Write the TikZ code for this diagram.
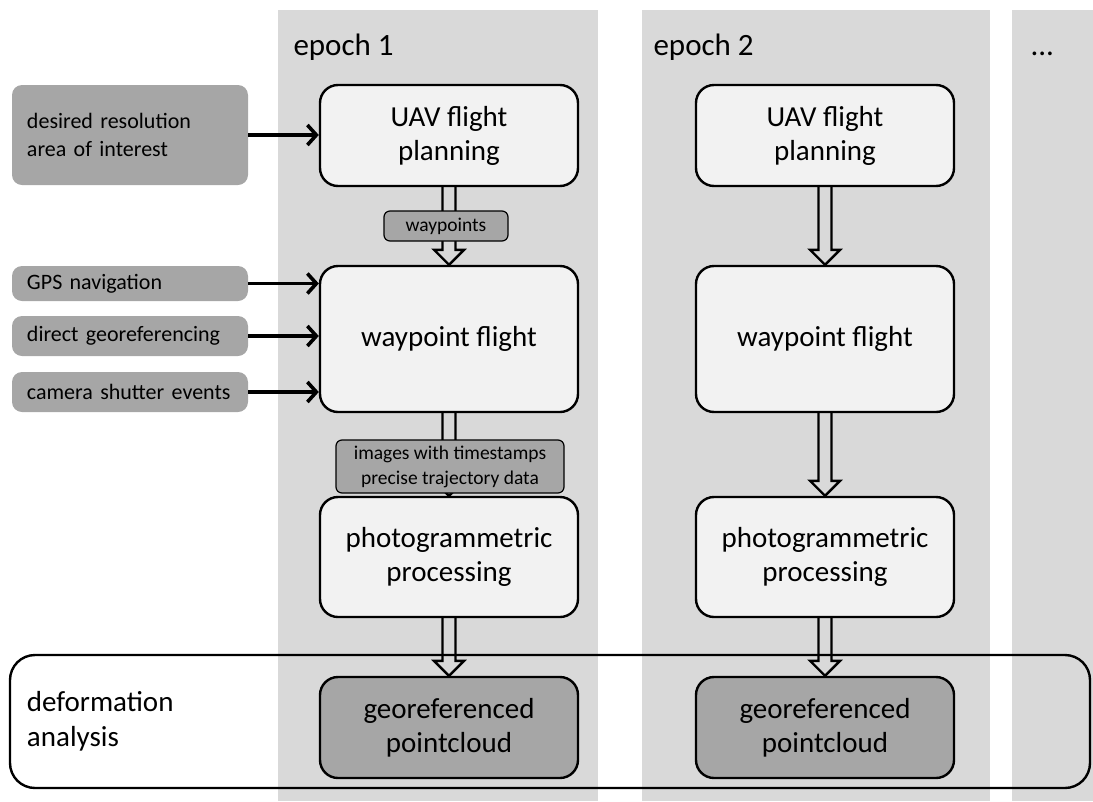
\documentclass[tikz,border=0pt]{standalone}
\usepackage{fontspec}
\setmainfont{Carlito}
\usetikzlibrary{arrows.meta,calc}

\definecolor{panelgray}{HTML}{D9D9D9}
\definecolor{boxlight}{HTML}{F2F2F2}
\definecolor{boxdark}{HTML}{A6A6A6}

% hollow block arrow from the bottom of one node to the top of the next
\newcommand{\hollowarrow}[2]{%
  \draw[hollow] ($(#1.south)+(-6.5,0)$) -- ($(#2.north)+(-6.5,-15)$)
    -- ($(#2.north)+(-15,-15)$) -- (#2.north) -- ($(#2.north)+(15,-15)$)
    -- ($(#2.north)+(6.5,-15)$) -- ($(#1.south)+(6.5,0)$);}

\begin{document}
\begin{tikzpicture}[x=1pt,y=-1pt]
\tikzset{
  stage/.style={draw, line width=2.4pt, fill=boxlight, rounded corners=18pt,
    minimum width=258pt, align=center, font=\fontsize{29}{34}\selectfont},
  result/.style={stage, fill=boxdark},
  input/.style={fill=boxdark, rounded corners=10pt, minimum width=236pt,
    text width=206pt, inner xsep=15pt, align=left, font=\fontsize{22}{28}\selectfont},
  tag/.style={draw, line width=1.2pt, fill=boxdark, rounded corners=6pt,
    align=center, inner sep=3pt, font=\fontsize{19.5}{25}\selectfont},
  feed/.style={line width=3.6pt, -{Straight Barb[length=9pt,width=20pt]}},
  hollow/.style={line width=2.4pt, line join=miter},
  epoch/.style={anchor=base west, font=\fontsize{31}{36}\selectfont}
}
\useasboundingbox (0,0) rectangle (1093,801);

% epoch columns
\fill[panelgray] (278,10) rectangle (598,801);
\fill[panelgray] (642,10) rectangle (990,801);
\fill[panelgray] (1012,10) rectangle (1093,801);
\node[epoch] (ep1) at (290,55) {epoch 1};
\node[epoch] (ep2) at (650,55) {epoch 2};
\node[epoch] (ep3) at (1027,55) {...};

% deformation analysis frame
\node[draw, line width=2.4pt, rounded corners=25pt, minimum width=1080pt,
  minimum height=133pt, text width=1046pt, align=left,
  font=\fontsize{29}{35}\selectfont] (defo) at (550,721.5) {deformation\\analysis};

% inputs
\node[input, minimum height=100pt] (goal) at (130,135) {desired resolution\\area of interest};
\node[input, minimum height=35pt] (gps) at (130,283.5) {GPS navigation};
\node[input, minimum height=40pt] (dgeo) at (130,336) {direct georeferencing};
\node[input, minimum height=40pt] (shutter) at (130,392) {camera shutter events};

% epoch 1
\node[stage, minimum height=101pt] (plan1) at (449,135.5) {UAV flight\\planning};
\node[stage, minimum height=146pt] (flight1) at (449,339) {waypoint flight};
\node[stage, minimum height=120pt] (photo1) at (449,557) {photogrammetric\\processing};
\node[result, minimum height=101pt] (cloud1) at (449,727.5) {georeferenced\\pointcloud};

% epoch 2
\node[stage, minimum height=101pt] (plan2) at (825,135.5) {UAV flight\\planning};
\node[stage, minimum height=146pt] (flight2) at (825,339) {waypoint flight};
\node[stage, minimum height=120pt] (photo2) at (825,557) {photogrammetric\\processing};
\node[result, minimum height=101pt] (cloud2) at (825,727.5) {georeferenced\\pointcloud};

\draw[feed] (goal.east) -- (goal.east -| plan1.west);
\draw[feed] (gps.east) -- (gps.east -| flight1.west);
\draw[feed] (dgeo.east) -- (dgeo.east -| flight1.west);
\draw[feed] (shutter.east) -- (shutter.east -| flight1.west);

\hollowarrow{plan1}{flight1}
\hollowarrow{flight1}{photo1}
\hollowarrow{photo1}{cloud1}
\hollowarrow{plan2}{flight2}
\hollowarrow{flight2}{photo2}
\hollowarrow{photo2}{cloud2}

\node[tag, minimum width=124pt, minimum height=30pt] (wp) at (446,226) {waypoints};
\node[tag, minimum width=228pt, minimum height=53pt] (img) at (450,466.5)
  {images with timestamps\\precise trajectory data};
\end{tikzpicture}
\end{document}
